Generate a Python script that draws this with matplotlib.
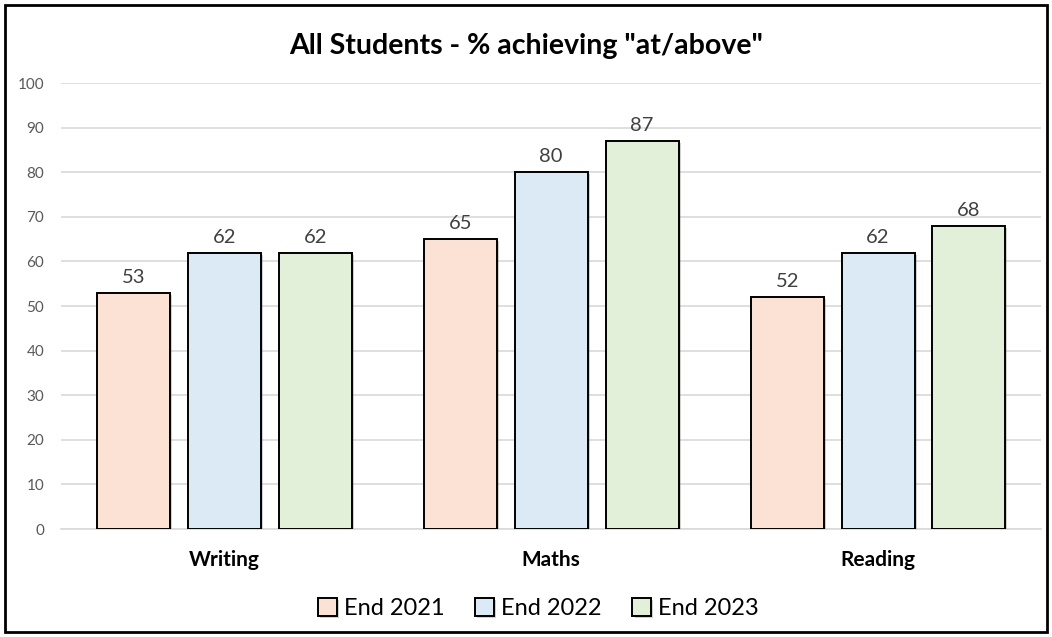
import numpy as np
import matplotlib.pyplot as plt
import matplotlib.patheffects as pe
from matplotlib.patches import Rectangle

subjects = ["Writing", "Maths", "Reading"]
series = ["End 2021", "End 2022", "End 2023"]
end_2021 = [53, 65, 52]
end_2022 = [62, 80, 62]
end_2023 = [62, 87, 68]
colors = ["#fbe2d5", "#dceaf6", "#e2efd9"]

plt.rcParams["font.family"] = ["Lato", "DejaVu Sans"]

fig = plt.figure(figsize=(10.52, 6.37), dpi=100)
ax = fig.add_axes([0.058, 0.1695, 0.932, 0.700])

x = np.arange(len(subjects))
width = 0.223
step = 0.278
shadow = [pe.SimplePatchShadow(offset=(1.5, -1.5), alpha=0.25), pe.Normal()]

for i, (vals, name) in enumerate(zip([end_2021, end_2022, end_2023], series)):
    bars = ax.bar(x + (i - 1) * step, vals, width, color=colors[i],
                  edgecolor="black", linewidth=1.4, label=name, zorder=3,
                  path_effects=shadow)
    ax.bar_label(bars, padding=5, fontsize=14.5, color="#404040")

ax.set_xlim(-0.5, 2.5)
ax.set_ylim(0, 100)
ax.set_yticks(range(0, 101, 10))
ax.yaxis.grid(True, color="#d9d9d9", linewidth=1.2, zorder=0)
ax.set_xticks(x)
ax.set_xticklabels(subjects, fontsize=15, fontweight="bold")
ax.tick_params(axis="x", length=0, pad=15)
ax.tick_params(axis="y", length=0, labelsize=11, labelcolor="#595959", pad=12)
for s in ["top", "right", "left"]:
    ax.spines[s].set_visible(False)
ax.spines["bottom"].set_color("#d9d9d9")
ax.spines["bottom"].set_linewidth(1.2)

fig.text(0.5, 0.928, 'All Students - % achieving "at/above"', ha="center",
         va="center", fontsize=20.5, fontweight="bold")

fig.legend(loc="center", bbox_to_anchor=(0.512, 0.045), ncol=3, frameon=False,
           fontsize=17, handlelength=0.8, handleheight=0.8, handletextpad=0.3,
           columnspacing=1.3)

fig.patches.append(Rectangle((0.005, 0.008), 0.99, 0.984, transform=fig.transFigure,
                             fill=False, edgecolor="black", linewidth=2))

fig.savefig("out.png", dpi=100)
